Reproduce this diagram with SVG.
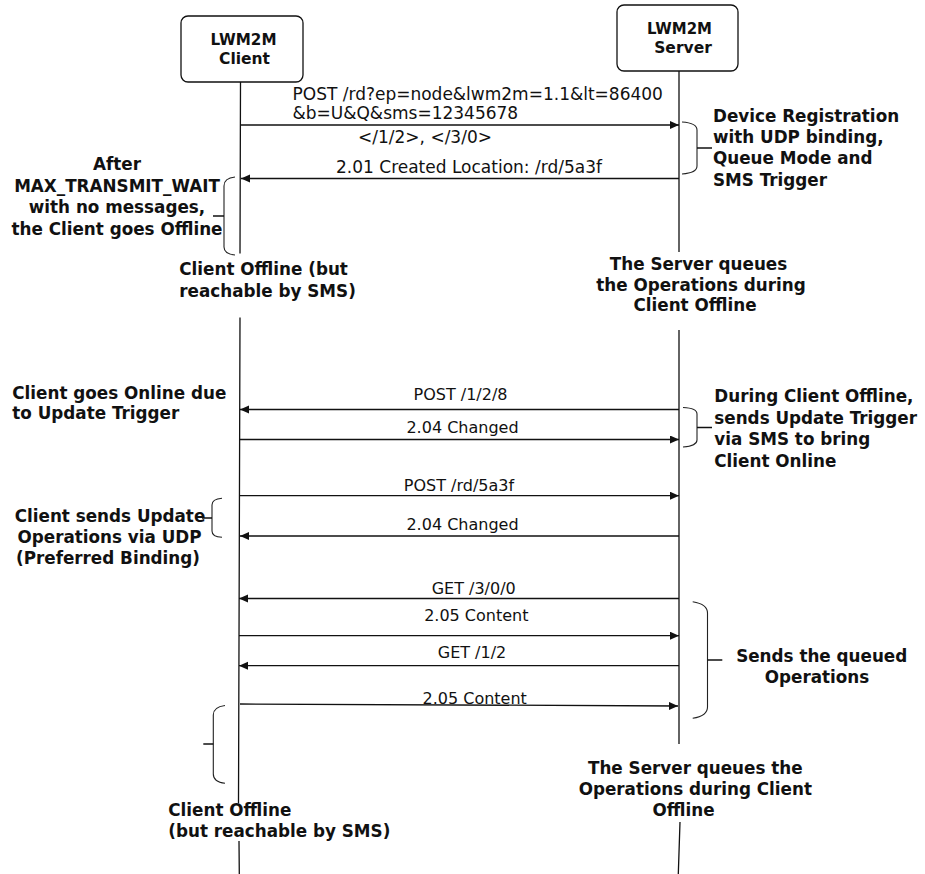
<svg xmlns="http://www.w3.org/2000/svg" width="925" height="874" viewBox="0 0 925 874">
<style>
.box{fill:#fff;stroke:#111;stroke-width:1.3}
.life{fill:none;stroke:#111;stroke-width:1.3}
.msg{fill:none;stroke:#111;stroke-width:1.3;marker-end:url(#ah)}
.brace{fill:none;stroke:#222;stroke-width:1.1}
.tick{fill:none;stroke:#111;stroke-width:1.5}
.t17{font-family:"DejaVu Sans","Liberation Sans",sans-serif;font-size:17px;fill:#111}
.t16{font-family:"DejaVu Sans","Liberation Sans",sans-serif;font-size:16px;fill:#111}
.b{font-family:"DejaVu Sans","Liberation Sans",sans-serif;font-size:16.8px;font-weight:bold;fill:#111}
.bl{font-family:"DejaVu Sans","Liberation Sans",sans-serif;font-size:15.5px;font-weight:bold;fill:#111}
.m{text-anchor:middle}
</style>
<defs>
<marker id="ah" markerUnits="userSpaceOnUse" markerWidth="10" markerHeight="9" refX="9" refY="4" orient="auto">
<path d="M0,0 L9,4 L0,8 z" fill="#111"/>
</marker>
</defs>

<g id="client">
<rect class="box" x="181" y="16" width="122" height="66" rx="7"/>
<text class="bl m" x="243.5" y="44.5" textLength="66" lengthAdjust="spacingAndGlyphs">LWM2M</text>
<text class="bl m" x="244.5" y="63.5">Client</text>
<path class="life" d="M240.5,82 L240,253.5 M240,317.5 L238.5,803.5 M239,841 L239.3,874"/>
</g>

<g id="server">
<rect class="box" x="617" y="5" width="121" height="66" rx="7"/>
<text class="bl m" x="679.5" y="34" textLength="65" lengthAdjust="spacingAndGlyphs">LWM2M</text>
<text class="bl m" x="683" y="53">Server</text>
<path class="life" d="M679,71 L679,252 M679,330 L679,744 M680,822 L678.3,874"/>
</g>

<g id="connectors">
<line class="msg" x1="241" y1="125" x2="679" y2="125"/>
<line class="msg" x1="679" y1="178.5" x2="241" y2="178.5"/>
<line class="msg" x1="679" y1="409.5" x2="240" y2="409.5"/>
<line class="msg" x1="240" y1="439.5" x2="679" y2="439.5"/>
<line class="msg" x1="240" y1="495.7" x2="679" y2="495.7"/>
<line class="msg" x1="679" y1="536" x2="240" y2="536"/>
<line class="msg" x1="679" y1="598.5" x2="239" y2="598.5"/>
<line class="msg" x1="239" y1="635.7" x2="679" y2="635.7"/>
<line class="msg" x1="679" y1="665.7" x2="239" y2="665.7"/>
<line class="msg" x1="240" y1="704" x2="678" y2="706"/>
</g>

<g id="message-labels">
<text class="t17" x="292.5" y="100">POST /rd?ep=node&amp;lwm2m=1.1&amp;lt=86400</text>
<text class="t17" x="292.5" y="119">&amp;b=U&amp;Q&amp;sms=12345678</text>
<text class="t17" x="358" y="143">&lt;/1/2&gt;, &lt;/3/0&gt;</text>
<text class="t17" x="336" y="172.5">2.01 Created Location: /rd/5a3f</text>
<text class="t16 m" x="460.5" y="400">POST /1/2/8</text>
<text class="t16 m" x="462.5" y="433">2.04 Changed</text>
<text class="t16 m" x="459" y="490.5">POST /rd/5a3f</text>
<text class="t16 m" x="462.5" y="529.5">2.04 Changed</text>
<text class="t16 m" x="473.7" y="594">GET /3/0/0</text>
<text class="t16 m" x="476.3" y="621">2.05 Content</text>
<text class="t16 m" x="472" y="658.3">GET /1/2</text>
<text class="t16 m" x="474.7" y="704">2.05 Content</text>
</g>

<g id="note-registration">
<path class="brace" d="M682,122 Q697,123 697,130 L697,166 Q697,173 682,174"/>
<line class="tick" x1="697" y1="148" x2="712" y2="148"/>
<text class="b" x="713" y="121.7">Device Registration</text>
<text class="b" x="713" y="143">with UDP binding,</text>
<text class="b" x="713" y="164.3">Queue Mode and</text>
<text class="b" x="713" y="185.7">SMS Trigger</text>
</g>

<g id="note-after">
<path class="brace" d="M235,177 Q224,178 224,186 L224,247 Q224,254 235,255"/>
<line class="tick" x1="213" y1="216" x2="224" y2="216"/>
<text class="b m" x="117" y="170">After</text>
<text class="b m" x="117" y="191.5">MAX_TRANSMIT_WAIT</text>
<text class="b m" x="117" y="213">with no messages,</text>
<text class="b m" x="117" y="234.5">the Client goes Offline</text>
</g>

<g id="note-client-offline-1">
<text class="b" x="179.3" y="275">Client Offline (but</text>
<text class="b" x="179.3" y="296.5">reachable by SMS)</text>
</g>

<g id="note-server-queues-1">
<text class="b m" x="698.5" y="269.5">The Server queues</text>
<text class="b m" x="701" y="290.5">the Operations during</text>
<text class="b m" x="695" y="311.3">Client Offline</text>
</g>

<g id="note-online">
<text class="b" x="12.3" y="398.5">Client goes Online due</text>
<text class="b" x="12.3" y="419">to Update Trigger</text>
</g>

<g id="note-during">
<path class="brace" d="M683,407.5 Q697,408 697,414 L697,440 Q697,446 683,447"/>
<line class="tick" x1="697" y1="427.5" x2="712" y2="427.5"/>
<text class="b" x="714.3" y="402.3">During Client Offline,</text>
<text class="b" x="714.3" y="423.6">sends Update Trigger</text>
<text class="b" x="714.3" y="445">via SMS to bring</text>
<text class="b" x="714.3" y="466.5">Client Online</text>
</g>

<g id="note-update">
<path class="brace" d="M222,498.3 Q212,499 212,505 L212,531 Q212,537 222,537.3"/>
<line class="tick" x1="202" y1="518" x2="212" y2="518"/>
<text class="b m" x="110" y="521.7">Client sends Update</text>
<text class="b m" x="109.5" y="542.7">Operations via UDP</text>
<text class="b m" x="108" y="563.5">(Preferred Binding)</text>
</g>

<g id="note-queued">
<path class="brace" d="M692.7,601.7 Q707.5,604 707.5,613 L707.5,707 Q707.5,716 692.7,718.3"/>
<line class="tick" x1="707.5" y1="660" x2="722.3" y2="660"/>
<text class="b m" x="821.7" y="661.7">Sends the queued</text>
<text class="b m" x="817" y="682.7">Operations</text>
</g>

<g id="note-client-offline-2">
<path class="brace" d="M225,705.5 Q213.3,707 213.3,715 L213.3,774 Q213.3,782 225,783.3"/>
<line class="tick" x1="203.3" y1="744" x2="213.3" y2="744"/>
<text class="b" x="168.3" y="815.7">Client Offline</text>
<text class="b" x="168.3" y="836.7">(but reachable by SMS)</text>
</g>

<g id="note-server-queues-2">
<text class="b m" x="695.3" y="774.3">The Server queues the</text>
<text class="b m" x="695.3" y="795">Operations during Client</text>
<text class="b m" x="683.5" y="815.7">Offline</text>
</g>
</svg>
